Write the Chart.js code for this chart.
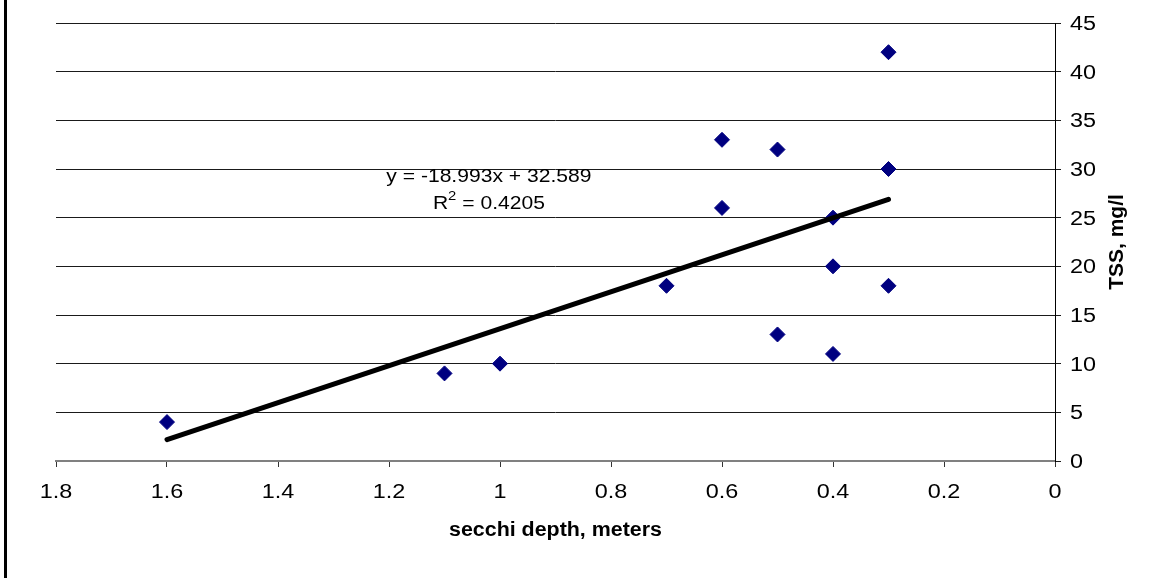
<!DOCTYPE html>
<html><head><meta charset="utf-8">
<style>html,body{margin:0;padding:0;background:#fff;overflow:hidden}#wrap{width:1156px;height:578px;position:relative}</style>
<script src="https://cdn.jsdelivr.net/npm/chart.js@4.4.0/dist/chart.umd.min.js"></script>
</head><body><div id="wrap"><canvas id="c" width="1156" height="578"></canvas></div>
<script>
const secchiDepth = [1.6, 1.1, 1.0, 0.7, 0.6, 0.6, 0.5, 0.5, 0.4, 0.4, 0.4, 0.3, 0.3, 0.3];
const tss = [4, 9, 10, 18, 33, 26, 32, 13, 25, 20, 11, 42, 30, 18];
const xTickValues = [1.8, 1.6, 1.4, 1.2, 1.0, 0.8, 0.6, 0.4, 0.2, 0];
const xTickLabels = ['1.8', '1.6', '1.4', '1.2', '1', '0.8', '0.6', '0.4', '0.2', '0'];
const yTickValues = [0, 5, 10, 15, 20, 25, 30, 35, 40, 45];
const yTickLabels = ['0', '5', '10', '15', '20', '25', '30', '35', '40', '45'];
const trendSlope = -18.993;
const trendIntercept = 32.589;
const trendEquation = 'y = -18.993x + 32.589';
const trendR2 = '0.4205';
const xTitle = 'secchi depth, meters';
const yTitle = 'TSS, mg/l';
const labelAnchor = [1.02, 28.7];

const scatterPts = secchiDepth.map((x, i) => ({x: x, y: tss[i]}));
const xLo = Math.min(...secchiDepth), xHi = Math.max(...secchiDepth);
const trendPts = [xHi, xLo].map(x => ({x: x, y: trendSlope * x + trendIntercept}));

const FONT = '"Liberation Sans", Arial, sans-serif';
function drawStretched(ctx, text, x, y, align, font, s) {
  ctx.save();
  ctx.font = font;
  ctx.textAlign = align;
  ctx.textBaseline = 'alphabetic';
  ctx.fillStyle = '#000';
  ctx.translate(x, y);
  ctx.scale(s, 1);
  ctx.fillText(text, 0, 0);
  ctx.restore();
}

const textPlugin = {
  id: 'texts',
  afterDraw(chart) {
    const ctx = chart.ctx, xs = chart.scales.x, ys = chart.scales.y, ca = chart.chartArea;
    ctx.save();
    ctx.fillStyle = '#000';
    ctx.fillRect(4, 0, 3, chart.height);
    ctx.restore();
    xTickValues.forEach((v, i) => {
      drawStretched(ctx, xTickLabels[i], xs.getPixelForValue(v), ca.bottom + 37, 'center', '20px ' + FONT, 1.17);
    });
    yTickValues.forEach((v, i) => {
      drawStretched(ctx, yTickLabels[i], ys.left + 15, ys.getPixelForValue(v) + 7, 'left', '20px ' + FONT, 1.17);
    });
    drawStretched(ctx, xTitle, (ca.left + ca.right) / 2, ca.bottom + 75, 'center', 'bold 20px ' + FONT, 1.07);
    ctx.save();
    ctx.font = 'bold 21px ' + FONT;
    ctx.fillStyle = '#000';
    ctx.textAlign = 'center';
    ctx.textBaseline = 'alphabetic';
    ctx.translate(ys.left + 68, (ca.top + ca.bottom) / 2);
    ctx.rotate(-Math.PI / 2);
    ctx.fillText(yTitle, 0, 0);
    ctx.restore();
    // trendline label
    const cx = xs.getPixelForValue(labelAnchor[0]);
    const by = ys.getPixelForValue(labelAnchor[1]);
    const s = 1.14;
    drawStretched(ctx, trendEquation, cx, by, 'center', '18.5px ' + FONT, s);
    ctx.save();
    ctx.font = '18.5px ' + FONT;
    const wR = ctx.measureText('R').width;
    const wRest = ctx.measureText(' = ' + trendR2).width;
    ctx.font = '13px ' + FONT;
    const w2 = ctx.measureText('2').width;
    ctx.restore();
    const total = (wR + w2 + wRest) * s;
    let x0 = cx - total / 2;
    const by2 = by + 27.3;
    drawStretched(ctx, 'R', x0, by2, 'left', '18.5px ' + FONT, s);
    drawStretched(ctx, '2', x0 + wR * s, by2 - 9, 'left', '13px ' + FONT, s);
    drawStretched(ctx, ' = ' + trendR2, x0 + (wR + w2) * s, by2, 'left', '18.5px ' + FONT, s);
  }
};

new Chart(document.getElementById('c'), {
  type: 'scatter',
  data: {
    datasets: [
      {
        type: 'line', data: trendPts, borderColor: '#000', borderWidth: 5, borderCapStyle: 'round',
        pointRadius: 0, pointHoverRadius: 0, fill: false, tension: 0
      },
      {
        data: scatterPts, pointStyle: 'rectRot', pointRadius: 7.5, pointHoverRadius: 7.5,
        backgroundColor: '#000080', borderColor: '#000080', borderWidth: 1
      }
    ]
  },
  options: {
    responsive: false, animation: false, devicePixelRatio: 1,
    layout: {padding: {left: 56, top: 23, right: 0, bottom: 0}},
    plugins: {legend: {display: false}, tooltip: {enabled: false}},
    events: [],
    scales: {
      x: {
        type: 'linear', position: 'bottom', min: 0, max: 1.8, reverse: true,
        afterBuildTicks: sc => { sc.ticks = xTickValues.map(v => ({value: v})); },
        afterFit: sc => { sc.height = 117; },
        ticks: {display: false},
        grid: {drawOnChartArea: false, drawTicks: true, tickLength: 6, color: '#333', lineWidth: 1},
        border: {display: true, color: '#808080', width: 2}
      },
      y: {
        type: 'linear', position: 'right', min: 0, max: 45,
        afterBuildTicks: sc => { sc.ticks = yTickValues.map(v => ({value: v})); },
        afterFit: sc => { sc.width = 101; },
        ticks: {display: false},
        grid: {drawOnChartArea: true, drawTicks: true, tickLength: 6, color: '#1a1a1a', lineWidth: 1},
        border: {display: true, color: '#000', width: 1}
      }
    }
  },
  plugins: [textPlugin]
});
</script></body></html>
